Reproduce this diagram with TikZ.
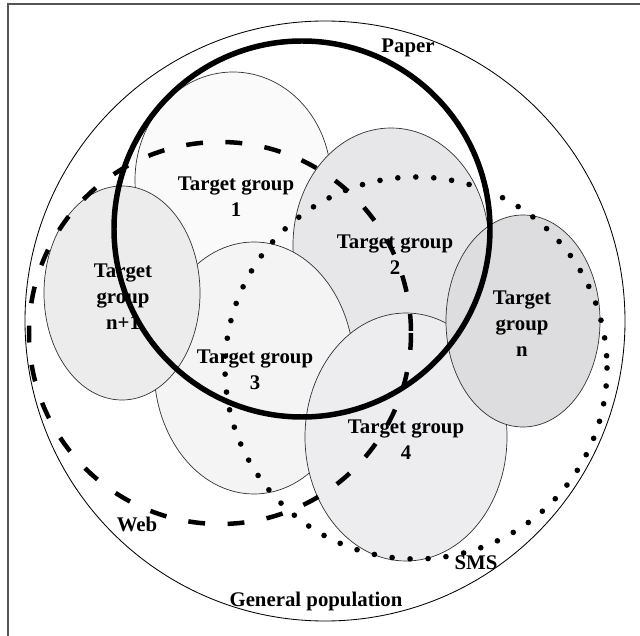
\documentclass[tikz,border=0pt]{standalone}
\usepackage{fontspec}
\setmainfont{Liberation Serif}
\usepackage{tikz}
\usetikzlibrary{positioning}
\definecolor{framegray}{RGB}{85,85,85}
\definecolor{grpone}{RGB}{250,250,250}
\definecolor{grptwo}{RGB}{231,231,233}
\definecolor{grpthree}{RGB}{244,244,244}
\definecolor{grpfour}{RGB}{237,237,239}
\definecolor{grplast}{RGB}{236,236,236}
\definecolor{grpn}{RGB}{221,221,223}

\begin{document}
\begin{tikzpicture}[x=0.025cm, y=-0.025cm,
group/.style={draw=black!80, line width=0.5pt},
paper/.style={line width=3.9pt},
web/.style={line width=3.2pt, dash pattern=on 12pt off 16pt},
sms/.style={line width=4pt, line cap=round, dash pattern=on 0pt off 12.8pt},
lbl/.style={font=\fontsize{14.8}{18.5}\selectfont\bfseries, align=center, inner sep=0pt}
]

\useasboundingbox (0,0) rectangle (640,636);
\fill[white] (0,0) rectangle (640,636);
\draw[framegray, line width=1.4pt] (8,636) -- (8,4) -- (640,4);

% general population
\draw[line width=0.6pt] (325,321) circle [radius=300];

% target groups, back to front
\filldraw[group, fill=grpone]   (233,180) ellipse [x radius=98,  y radius=108];
\filldraw[group, fill=grptwo]   (391,245) ellipse [x radius=98,  y radius=117];
\filldraw[group, fill=grpthree] (254,368) ellipse [x radius=100, y radius=126];
\filldraw[group, fill=grplast]  (122,293) ellipse [x radius=78,  y radius=107];
\filldraw[group, fill=grpfour]  (406,437) ellipse [x radius=101, y radius=124];
\filldraw[group, fill=grpn]     (523,321) ellipse [x radius=77,  y radius=106];

% channels
\draw[web]   (220,333) circle [radius=191];
\draw[sms]   (416,368) circle [radius=191];
\draw[paper] (302,229) circle [radius=188];

% labels
\node[lbl] (tg1)  at (236,197) {Target group\\1};
\node[lbl] (tg2)  at (395,255) {Target group\\2};
\node[lbl] (tg3)  at (255,370) {Target group\\3};
\node[lbl] (tg4)  at (406,440) {Target group\\4};
\node[lbl] (tgn1) at (123,297) {Target\\group\\n+1};
\node[lbl] (tgn)  at (522,324) {Target\\group\\n};
\node[lbl] (lpaper) at (408,48)  {Paper};
\node[lbl] (lweb)   at (137,524) {Web};
\node[lbl] (lsms)   at (476,563) {SMS};
\node[lbl] (lgen)   at (316,601) {General population};

\end{tikzpicture}
\end{document}
